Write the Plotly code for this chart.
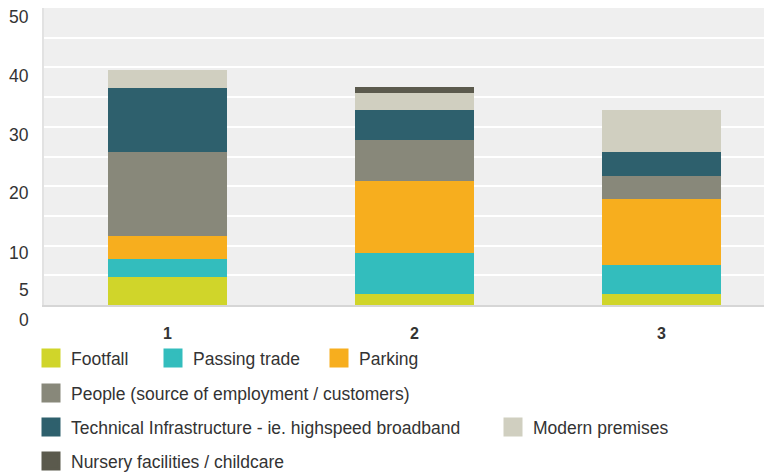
import plotly.graph_objects as go

# Data
categories = ["1", "2", "3"]
series_names = [
    "Footfall",
    "Passing trade",
    "Parking",
    "People (source of employment / customers)",
    "Technical Infrastructure - ie. highspeed broadband",
    "Modern premises",
    "Nursery facilities / childcare",
]
footfall = [4.7, 1.9, 1.85]
passing_trade = [3.0, 6.85, 4.9]
parking = [4.0, 12.2, 11.1]
people = [14.0, 6.85, 3.9]
tech_infra = [10.9, 5.05, 4.0]
modern_premises = [3.0, 2.9, 7.1]
nursery = [0.0, 1.0, 0.0]

y_tick_labels = ["0", "5", "10", "20", "30", "40", "50"]
y_tick_pos = [-2.5, 2.5, 8.75, 18.85, 28.6, 38.55, 48.5]

colors = ["#d0d52a", "#33bdbd", "#f7ae1e", "#88887a", "#2e606d", "#d0cfc0", "#5b5a4d"]
values = [footfall, passing_trade, parking, people, tech_infra, modern_premises, nursery]

# legend placement (figure px): one legend per entry so the rows match
legend_xy = [(23, 350), (145, 350), (311, 350), (23, 385), (23, 419), (485, 419), (23, 453)]

# page body keeps its default 8px margin, so the figure is 8px smaller
W, H = 764, 464
Y_MAX = 50
FONT = "Liberation Sans, Arial, sans-serif"
fig = go.Figure()

for i, (name, vals, col) in enumerate(zip(series_names, values, colors)):
    lg = "legend" if i == 0 else f"legend{i + 1}"
    fig.add_trace(go.Bar(
        x=categories, y=vals, name=name, marker_color=col,
        marker_line_width=0, legendgroup=name, showlegend=False,
    ))
    # legend proxy, bigger square symbol than the bar default
    fig.add_trace(go.Scatter(
        x=[None], y=[None], mode="markers", name=name, legendgroup=name,
        marker=dict(symbol="square", size=16, color=col,
                    line=dict(color=col, width=3)),
        legend=lg,
    ))

layout_legends = {}
for i, (lx, ly) in enumerate(legend_xy):
    key = "legend" if i == 0 else f"legend{i + 1}"
    layout_legends[key] = dict(
        xref="container", yref="container",
        x=lx / W, y=1 - ly / H, xanchor="left", yanchor="middle",
        orientation="h", bgcolor="rgba(0,0,0,0)",
        font=dict(family=FONT, size=17.5, color="#333333"),
        itemclick=False,
    )

# y labels sit off the gridlines in the original, so they are placed by hand
annotations = [
    dict(text=t, x=-0.018, y=v / Y_MAX, xref="paper", yref="paper", xanchor="right",
         yanchor="middle", showarrow=False,
         font=dict(family=FONT, size=17.5, color="#333333"))
    for t, v in zip(y_tick_labels, y_tick_pos)
]

fig.update_layout(
    width=W, height=H,
    barmode="stack",
    bargap=0.517,
    paper_bgcolor="white",
    plot_bgcolor="#efefef",
    margin=dict(l=36, r=0, t=0, b=167, autoexpand=False),
    annotations=annotations,
    **layout_legends,
)
fig.update_xaxes(
    type="category", range=[-0.5, 2.448], showgrid=False,
    showline=True, linecolor="#d6d6d6", linewidth=2, ticks="",
    tickfont=dict(family=FONT, size=16, color="#333333", weight="bold"),
    ticklabelstandoff=13,
)
fig.update_yaxes(
    range=[0, Y_MAX], dtick=5, showgrid=True, gridcolor="white", gridwidth=2,
    showticklabels=False, zeroline=False,
    showline=True, linecolor="#e2e2e2", linewidth=2,
)

fig.write_html("out.html")
